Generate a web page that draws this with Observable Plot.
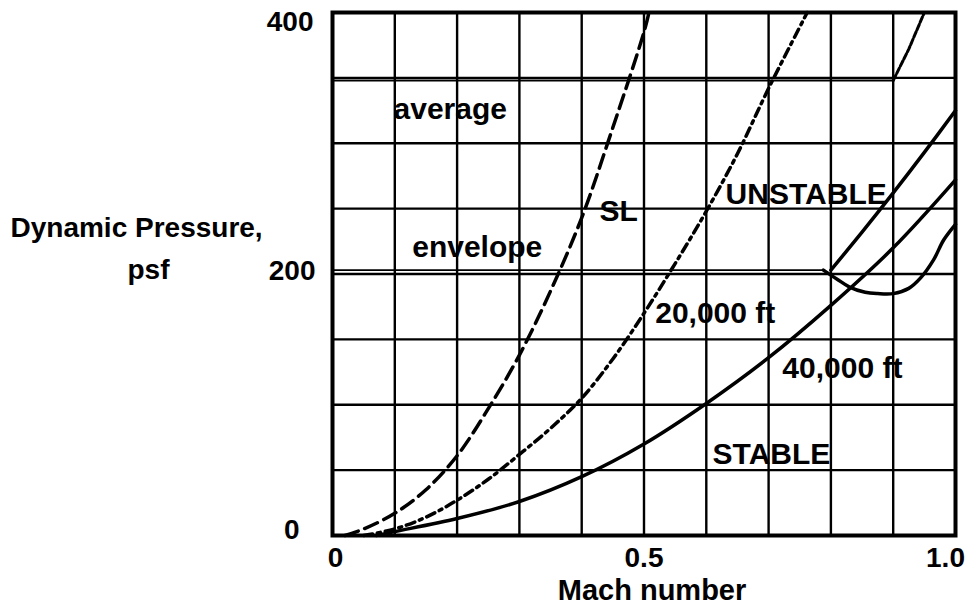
<!DOCTYPE html>
<html><head><meta charset="utf-8">
<script src="https://cdn.jsdelivr.net/npm/d3@7"></script>
<script src="https://cdn.jsdelivr.net/npm/@observablehq/plot@0.6"></script>
<style>html,body{margin:0;padding:0;background:#fff}svg{display:block}</style>
</head><body><div id="chart"></div>
<script>
// Sea level curve (long dashes)
const slMach = [0.02, 0.05, 0.1, 0.15, 0.2, 0.25, 0.3, 0.35, 0.4, 0.45, 0.5, 0.508];
const slQ    = [0, 5, 17, 35, 61, 97, 138, 187, 243, 312, 385, 400];
// 20,000 ft curve (dash-dot)
const alt20Mach = [0.05, 0.1, 0.15, 0.2, 0.25, 0.3, 0.35, 0.4, 0.45, 0.5, 0.55, 0.6, 0.65, 0.7, 0.762];
const alt20Q    = [0, 5, 14, 27, 43, 62, 82, 105, 135, 170, 208, 248, 292, 342, 400];
// 40,000 ft curve (solid)
const alt40Mach = [0.07, 0.1, 0.2, 0.3, 0.4, 0.5, 0.6, 0.7, 0.8, 0.9, 1.0];
const alt40Q    = [0, 3, 13, 26, 45, 70, 101, 136, 176, 220, 272];
// Stability boundary (straight, from envelope)
const boundMach = [0.8, 0.85, 0.9, 0.95, 1.0];
const boundQ    = [203, 232, 262, 293, 325];
// Dip curve starting at envelope
const dipMach = [0.788, 0.81, 0.83, 0.855, 0.875, 0.9, 0.925, 0.944, 0.965, 0.981, 1.0];
const dipQ    = [203, 196, 190, 186, 185, 185, 189, 197, 211, 226, 238];
// Average line and its rise
const avgMach = [0, 0.9];
const avgQ    = [348, 348];
const riseMach = [0.9, 0.925, 0.95];
const riseQ    = [348, 372, 400];
// Envelope line
const envMach = [0, 0.788];
const envQ    = [203, 203];
// Grid & ticks
const xGrid = [0.1, 0.2, 0.3, 0.4, 0.5, 0.6, 0.7, 0.8, 0.9];
const yGrid = [50, 100, 150, 200, 250, 300, 350];
// Annotations
const labelText = ["average", "envelope", "SL", "UNSTABLE", "20,000 ft", "40,000 ft", "STABLE"];
const labelMach = [0.098, 0.128, 0.4286, 0.631, 0.518, 0.722, 0.61];
const labelQ    = [326, 220, 248, 261, 170, 128, 62];

const pts = (ms, qs) => ms.map((m, i) => ({m, q: qs[i]}));
const labels = labelText.map((t, i) => ({t, m: labelMach[i], q: labelQ[i]}));
const font = "'Liberation Sans', Arial, Helvetica, sans-serif";

const chart = Plot.plot({
  width: 975, height: 608,
  marginLeft: 332, marginRight: 20, marginTop: 12, marginBottom: 73,
  x: {domain: [0, 1], label: null},
  y: {domain: [0, 400], label: null},
  style: {fontFamily: font, fontWeight: "bold", color: "black", background: "white"},
  marks: [
    Plot.ruleX(xGrid, {stroke: "black", strokeWidth: 2.4}),
    Plot.ruleY(yGrid, {stroke: "black", strokeWidth: 2.4}),
    Plot.line(pts(envMach, envQ), {x: "m", y: "q", stroke: "black", strokeWidth: 1.8}),
    Plot.line(pts(avgMach, avgQ), {x: "m", y: "q", stroke: "black", strokeWidth: 1.8}),
    Plot.line(pts(riseMach, riseQ), {x: "m", y: "q", stroke: "black", strokeWidth: 3, strokeDasharray: "6,2"}),
    Plot.line(pts(slMach, slQ), {x: "m", y: "q", curve: "catmull-rom", stroke: "black", strokeWidth: 3.5, strokeDasharray: "14,7"}),
    Plot.line(pts(alt20Mach, alt20Q), {x: "m", y: "q", curve: "catmull-rom", stroke: "black", strokeWidth: 3.5, strokeDasharray: "9,5,3,5"}),
    Plot.line(pts(alt40Mach, alt40Q), {x: "m", y: "q", curve: "catmull-rom", stroke: "black", strokeWidth: 3.5}),
    Plot.line(pts(boundMach, boundQ), {x: "m", y: "q", curve: "catmull-rom", stroke: "black", strokeWidth: 3.5}),
    Plot.line(pts(dipMach, dipQ), {x: "m", y: "q", curve: "catmull-rom", stroke: "black", strokeWidth: 3.5}),
    Plot.frame({stroke: "black", strokeWidth: 4}),
    Plot.text(labels, {x: "m", y: "q", text: "t", textAnchor: "start", fontSize: 30, fontWeight: "bold", fill: "black"}),
    Plot.axisY({ticks: [400], tickSize: 0, tickPadding: 0, dx: -19, dy: 10, fontSize: 28, fontWeight: "bold", label: null}),
    Plot.axisY({ticks: [200], tickSize: 0, tickPadding: 0, dx: -17, dy: -3, fontSize: 28, fontWeight: "bold", label: null}),
    Plot.axisY({ticks: [0], tickSize: 0, tickPadding: 0, dx: -33, dy: -5, fontSize: 28, fontWeight: "bold", label: null}),
    Plot.axisX({ticks: [0], tickFormat: () => "0", tickSize: 0, tickPadding: 0, dx: 3, dy: 12, fontSize: 28, fontWeight: "bold", label: null}),
    Plot.axisX({ticks: [0.5], tickFormat: d => d.toFixed(1), tickSize: 0, tickPadding: 0, dx: 0, dy: 12, fontSize: 28, fontWeight: "bold", label: null}),
    Plot.axisX({ticks: [1], tickFormat: d => d.toFixed(1), tickSize: 0, tickPadding: 0, dx: -10, dy: 12, fontSize: 28, fontWeight: "bold", label: null}),
    Plot.text(["Dynamic Pressure,"], {frameAnchor: "top-left", lineAnchor: "middle", textAnchor: "start", dx: -322, dy: 216, fontSize: 28, fontWeight: "bold"}),
    Plot.text(["psf"], {frameAnchor: "top-left", lineAnchor: "middle", textAnchor: "middle", dx: -184, dy: 258, fontSize: 28, fontWeight: "bold"}),
    Plot.text(["Mach number"], {frameAnchor: "bottom", lineAnchor: "middle", textAnchor: "middle", dx: 8, dy: 55, fontSize: 29, fontWeight: "bold"})
  ]
});
document.getElementById("chart").appendChild(chart);
</script></body></html>
